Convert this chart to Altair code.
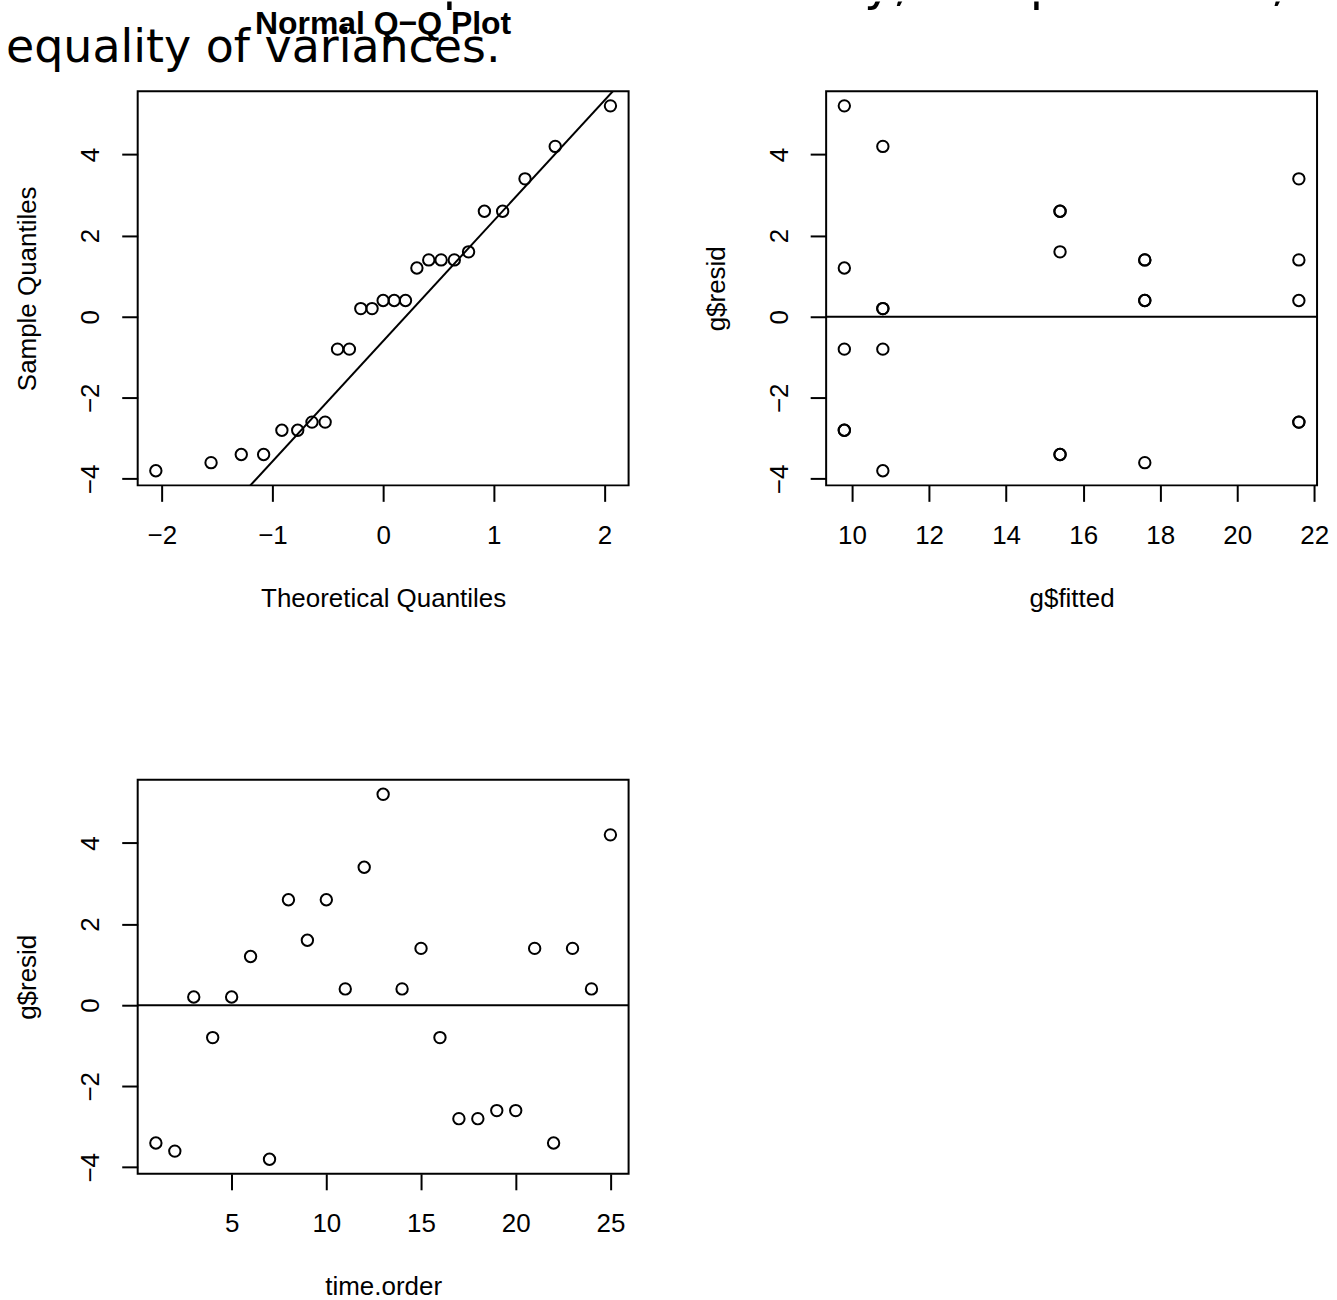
import altair as alt
import pandas as pd

# One-way ANOVA residuals, listed in run (time) order
time_order = list(range(1, 26))
resid = [-3.4, -3.6, 0.2, -0.8, 0.2, 1.2, -3.8, 2.6, 1.6, 2.6, 0.4, 3.4, 5.2,
         0.4, 1.4, -0.8, -2.8, -2.8, -2.6, -2.6, 1.4, -3.4, 1.4, 0.4, 4.2]
# fitted value (treatment mean) of each run
fitted = [15.4, 17.6, 10.8, 9.8, 10.8, 9.8, 10.8, 15.4, 15.4, 15.4, 17.6, 21.6, 9.8,
          17.6, 17.6, 10.8, 9.8, 9.8, 21.6, 21.6, 17.6, 15.4, 21.6, 21.6, 10.8]

# normal Q-Q coordinates: theoretical quantiles against ordered residuals
theo_q = [-2.054, -1.555, -1.282, -1.080, -0.915, -0.772, -0.643, -0.524, -0.412,
          -0.305, -0.202, -0.100, 0.000, 0.100, 0.202, 0.305, 0.412, 0.524, 0.643,
          0.772, 0.915, 1.080, 1.282, 1.555, 2.054]
sample_q = [-3.8, -3.6, -3.4, -3.4, -2.8, -2.8, -2.6, -2.6, -0.8, -0.8, 0.2, 0.2,
            0.4, 0.4, 0.4, 1.2, 1.4, 1.4, 1.4, 1.6, 2.6, 2.6, 3.4, 4.2, 5.2]
# reference line through the first and third quartiles
quart_theo = [-0.674, 0.674]
quart_sample = [-2.6, 1.4]

heading = ["Examine residual plots for normality, independence, and",
           "equality of variances."]

FONT = "Liberation Sans"
FS = 26
W, H = 492, 395
Y_DOM = [-4.16, 5.56]
MINUS = "replace(datum.label, '-', '\u2212')"


def x_axis(title, values):
    return alt.Axis(
        title=title, values=values, format="d", domain=False, grid=False,
        tickSize=16, tickWidth=2, tickColor="black",
        labelFont=FONT, labelFontSize=FS, labelColor="black",
        labelBaseline="alphabetic", labelPadding=42, labelExpr=MINUS,
        labelFlush=False, labelOverlap=False,
        titleFont=FONT, titleFontSize=FS, titleFontWeight="normal",
        titleColor="black", titleBaseline="alphabetic", titleAlign="center",
        titleX=W / 2, titleY=121,
    )


def y_axis(title):
    return alt.Axis(
        title=title, values=[-4, -2, 0, 2, 4], format="d", domain=False, grid=False,
        tickSize=16, tickWidth=2, tickColor="black",
        labelFont=FONT, labelFontSize=FS, labelColor="black",
        labelAngle=270, labelAlign="center", labelBaseline="alphabetic",
        labelPadding=23, labelExpr=MINUS, labelFlush=False, labelOverlap=False,
        titleFont=FONT, titleFontSize=FS, titleFontWeight="normal",
        titleColor="black", titleAngle=270, titleBaseline="alphabetic",
        titleAlign="center", titleX=-102, titleY=H / 2,
    )


def points(df, xcol, xdom, xtitle, xvals, ytitle, ycol):
    return alt.Chart(df).mark_point(
        shape="circle", filled=False, size=130, strokeWidth=2,
        color="black", opacity=1,
    ).encode(
        x=alt.X(f"{xcol}:Q", scale=alt.Scale(domain=xdom, nice=False, zero=False),
                axis=x_axis(xtitle, xvals)),
        y=alt.Y(f"{ycol}:Q", scale=alt.Scale(domain=Y_DOM, nice=False, zero=False),
                axis=y_axis(ytitle)),
    )


def zero_line():
    return alt.Chart(pd.DataFrame({"h": [0.0]})).mark_rule(
        color="black", strokeWidth=2
    ).encode(y=alt.Y("h:Q", scale=alt.Scale(domain=Y_DOM, nice=False, zero=False)))


one = pd.DataFrame({"k": [0]})

# --- heading line running off the top edge (clipped to a thin strip) -----
strip = alt.Chart(one).mark_text(
    align="left", baseline="alphabetic", font="DejaVu Sans", fontSize=49,
    color="black", clip=True,
).encode(
    x=alt.value(-132), y=alt.value(-1), text=alt.value(heading[0])
).properties(width=1200, height=11, view=alt.ViewBackground(strokeOpacity=0))

# --- panel 1: normal Q-Q plot -------------------------------------------
qq_df = pd.DataFrame({"theo": theo_q, "sample": sample_q})
QX = [-2.218, 2.218]
slope = (quart_sample[1] - quart_sample[0]) / (quart_theo[1] - quart_theo[0])
line_x = [-3.0, 3.0]
line_df = pd.DataFrame({
    "theo": line_x,
    "sample": [quart_sample[0] + slope * (v - quart_theo[0]) for v in line_x],
})

qq_pts = points(qq_df, "theo", QX, "Theoretical Quantiles", [-2, -1, 0, 1, 2],
                "Sample Quantiles", "sample")
qq_line = alt.Chart(line_df).mark_line(color="black", strokeWidth=2, clip=True).encode(
    x=alt.X("theo:Q", scale=alt.Scale(domain=QX, nice=False, zero=False)),
    y=alt.Y("sample:Q", scale=alt.Scale(domain=Y_DOM, nice=False, zero=False)),
)
head_bottom = alt.Chart(one).mark_text(
    align="left", baseline="alphabetic", font="DejaVu Sans", fontSize=46, color="black"
).encode(x=alt.value(-132), y=alt.value(-29), text=alt.value(heading[1]))
qq_title = alt.Chart(one).mark_text(
    align="center", baseline="alphabetic", font=FONT, fontSize=32,
    fontWeight="bold", color="black",
).encode(x=alt.value(W / 2), y=alt.value(-57), text=alt.value("Normal Q\u2212Q Plot"))

panel_qq = alt.layer(qq_line, qq_pts, head_bottom, qq_title).properties(width=W, height=H)

# --- panel 2: residuals against fitted values -----------------------------
run_df = pd.DataFrame({"time": time_order, "fitted": fitted, "resid": resid})
panel_fit = alt.layer(
    zero_line(),
    points(run_df, "fitted", [9.328, 22.072], "g$fitted",
           [10, 12, 14, 16, 18, 20, 22], "g$resid", "resid"),
).properties(width=W, height=H)

# --- panel 3: residuals in time order ------------------------------------
panel_time = alt.layer(
    zero_line(),
    points(run_df, "time", [0.04, 25.96], "time.order",
           [5, 10, 15, 20, 25], "g$resid", "resid"),
).properties(width=W, height=H)

grid = alt.concat(
    panel_qq, panel_fit, panel_time, columns=2,
    spacing=alt.RowColnumber(row=295, column=198), bounds="flush",
)

chart = alt.vconcat(strip, grid, spacing=79, bounds="flush").properties(
    padding={"left": 5, "top": 0, "right": 2, "bottom": 2},
    background="white",
).configure_view(
    stroke="black", strokeWidth=2,
)

chart.save("out.html", embed_options={"renderer": "svg", "actions": False})
